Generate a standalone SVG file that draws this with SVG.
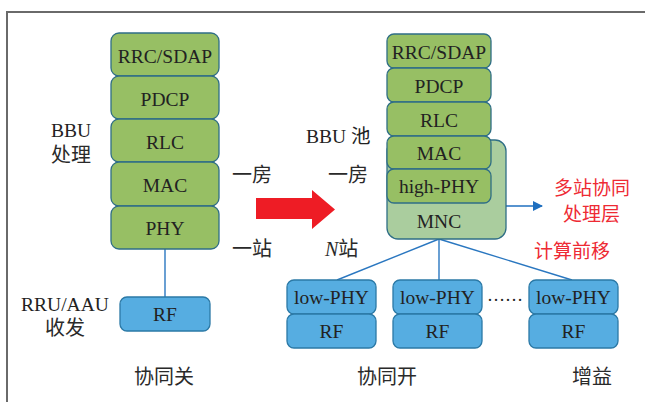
<svg xmlns="http://www.w3.org/2000/svg" width="645" height="402" viewBox="0 0 645 402">
  <style>
    .g { fill: #97bf64; stroke: #2f6e86; stroke-width: 1.3; }
    .b { fill: #56ade1; stroke: #2b79a6; stroke-width: 1.3; }
    .mnc { fill: #aacd9e; stroke: #2f6e86; stroke-width: 1.3; }
    .t { font-family: "Liberation Serif", "Noto Sans CJK SC", serif; font-size: 19.5px; fill: #222; text-anchor: middle; }
    .c { font-family: "Liberation Serif", "Noto Sans CJK SC", serif; font-size: 20px; fill: #2a2a2a; }
    .r { font-family: "Liberation Serif", "Noto Sans CJK SC", serif; font-size: 19px; fill: #ee2a34; }
    .link { stroke: #2a77c0; stroke-width: 1.4; fill: none; }
  </style>
  <defs>
    <marker id="ah" viewBox="0 0 10 10" refX="9" refY="5" markerWidth="10" markerHeight="10" markerUnits="userSpaceOnUse" orient="auto">
      <path d="M0,0 L10,5 L0,10 z" fill="#1f6fbf"/>
    </marker>
  </defs>

  <rect width="645" height="402" fill="#fff"/>
  <!-- frame -->
  <path d="M7,402 V12 H645" fill="none" stroke="#6a6a6a" stroke-width="2"/>

  <!-- connectors -->
  <g id="connectors">
    <line class="link" x1="165" y1="249" x2="165" y2="297"/>
    <line class="link" x1="439" y1="239" x2="337" y2="280"/>
    <line class="link" x1="439" y1="239" x2="439" y2="280"/>
    <line class="link" x1="439" y1="239" x2="572" y2="280"/>
    <line x1="506" y1="206" x2="542" y2="206" stroke="#1f6fbf" stroke-width="1.6" marker-end="url(#ah)"/>
    <path id="bigArrow" d="M256,198 H312 V190 L335,209.5 L312,229 V219 H256 z" fill="#ee1c25"/>
  </g>

  <!-- left: single-site stack -->
  <g id="l-rrc"><rect class="g" x="111" y="33" width="108" height="43" rx="8"/><text class="t" x="165" y="63">RRC/SDAP</text></g>
  <g id="l-pdcp"><rect class="g" x="111" y="76" width="108" height="43" rx="8"/><text class="t" x="165" y="106">PDCP</text></g>
  <g id="l-rlc"><rect class="g" x="111" y="119" width="108" height="43" rx="8"/><text class="t" x="165" y="149">RLC</text></g>
  <g id="l-mac"><rect class="g" x="111" y="162" width="108" height="44" rx="8"/><text class="t" x="165" y="192">MAC</text></g>
  <g id="l-phy"><rect class="g" x="111" y="206" width="108" height="43" rx="8"/><text class="t" x="165" y="235">PHY</text></g>
  <g id="l-rf"><rect class="b" x="120" y="297" width="90" height="34" rx="7"/><text class="t" x="165" y="321">RF</text></g>

  <!-- left labels -->
  <g id="labels-left">
    <text class="t" x="71" y="137">BBU</text>
    <text class="c" x="51" y="162">处理</text>
    <text class="t" x="65" y="311">RRU/AAU</text>
    <text class="c" x="45" y="335">收发</text>
    <text class="c" x="134" y="384">协同关</text>
    <text class="c" x="232" y="182">一房</text>
    <text class="c" x="232" y="256">一站</text>
  </g>

  <!-- right: pooled stack -->
  <g id="mnc"><rect class="mnc" x="387" y="140" width="119" height="99" rx="11"/><text class="t" x="439" y="228">MNC</text></g>
  <g id="r-rrc"><rect class="g" x="387" y="34" width="104" height="34" rx="7"/><text class="t" x="439" y="59">RRC/SDAP</text></g>
  <g id="r-pdcp"><rect class="g" x="387" y="68" width="104" height="34" rx="7"/><text class="t" x="439" y="93">PDCP</text></g>
  <g id="r-rlc"><rect class="g" x="387" y="102" width="104" height="34" rx="7"/><text class="t" x="439" y="127">RLC</text></g>
  <g id="r-mac"><rect class="g" x="387" y="136" width="104" height="33" rx="7"/><text class="t" x="439" y="160">MAC</text></g>
  <g id="r-hphy"><rect class="g" x="387" y="169" width="104" height="34" rx="7"/><text class="t" x="439" y="193">high-PHY</text></g>

  <!-- remote units -->
  <g id="ru1">
    <rect class="b" x="287" y="280" width="89" height="34" rx="7"/><text class="t" x="331.5" y="304">low-PHY</text>
    <rect class="b" x="287" y="314" width="89" height="34" rx="7"/><text class="t" x="331.5" y="338">RF</text>
  </g>
  <g id="ru2">
    <rect class="b" x="393" y="280" width="89" height="34" rx="7"/><text class="t" x="437.5" y="304">low-PHY</text>
    <rect class="b" x="393" y="314" width="89" height="34" rx="7"/><text class="t" x="437.5" y="338">RF</text>
  </g>
  <g id="ru3">
    <rect class="b" x="529" y="280" width="89" height="34" rx="7"/><text class="t" x="573.5" y="304">low-PHY</text>
    <rect class="b" x="529" y="314" width="89" height="34" rx="7"/><text class="t" x="573.5" y="338">RF</text>
  </g>
  <text class="t" x="505" y="301" style="font-size:18px">……</text>

  <!-- right labels -->
  <g id="labels-right">
    <text class="t" x="306" y="143" style="text-anchor:start">BBU 池</text>
    <text class="c" x="328" y="182">一房</text>
    <text class="c" x="325" y="256"><tspan font-style="italic">N</tspan>站</text>
    <text class="c" x="357" y="384">协同开</text>
    <text class="c" x="572" y="384">增益</text>
    <text class="r" x="554" y="195">多站协同</text>
    <text class="r" x="563" y="221">处理层</text>
    <text class="r" x="534" y="258">计算前移</text>
  </g>
</svg>
